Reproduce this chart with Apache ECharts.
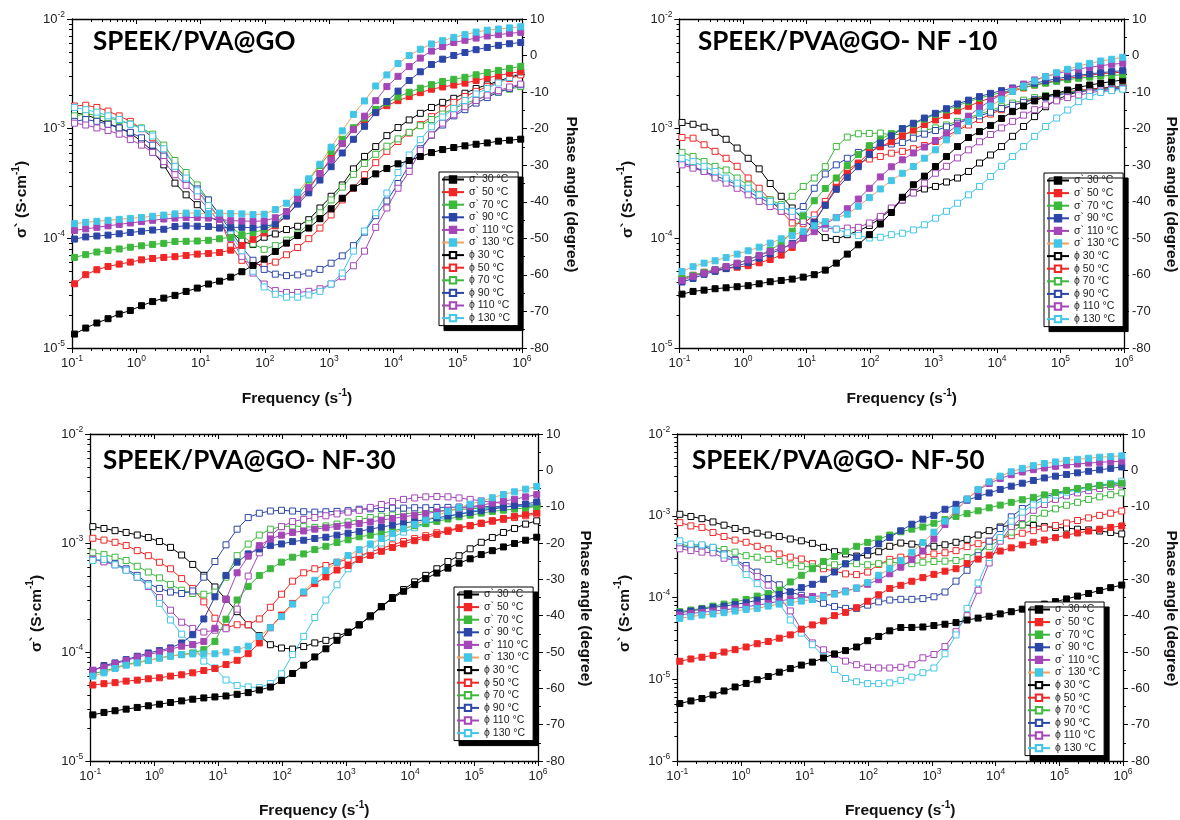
<!DOCTYPE html>
<html><head><meta charset="utf-8">
<script src="https://cdn.jsdelivr.net/npm/echarts@6/dist/echarts.min.js"></script>
<style>html,body{margin:0;padding:0;background:#fff}#c{width:1180px;height:820px}</style>
</head><body><div id="c"></div>
<script>
// Frequency grid (s^-1)
const freq = [0.1096,0.1635,0.2438,0.3635,0.542,0.8082,1.205,1.797,2.679,3.995,5.957,8.883,13.24,19.75,29.44,43.91,65.46,97.61,145.5,217,323.6,482.5,719.5,1073,1600,2385,3556,5303,7907,11790,17580,26210,39080,58280,86900,129600,193200,288100,429500,640400,955000];

const seriesNames = ['σ` 30 °C','σ` 50 °C','σ` 70 °C','σ` 90 °C','σ` 110 °C','σ` 130 °C','ϕ 30 °C','ϕ 50 °C','ϕ 70 °C','ϕ 90 °C','ϕ 110 °C','ϕ 130 °C'];
const panelTitles = ['SPEEK/PVA@GO','SPEEK/PVA@GO- NF -10','SPEEK/PVA@GO- NF-30','SPEEK/PVA@GO- NF-50'];
const phaseTicks = [-80,10];

// ---------- SPEEK/PVA@GO ----------
const go_s30=[1.34e-5,1.52e-5,1.69e-5,1.85e-5,2.04e-5,2.2e-5,2.43e-5,2.65e-5,2.85e-5,3.02e-5,3.28e-5,3.52e-5,3.83e-5,4.07e-5,4.43e-5,4.96e-5,5.66e-5,6.47e-5,7.59e-5,9.04e-5,1.06e-4,1.24e-4,1.51e-4,1.86e-4,2.32e-4,2.88e-4,3.3e-4,3.87e-4,4.33e-4,4.78e-4,5.12e-4,5.57e-4,6.05e-4,6.45e-4,6.73e-4,6.97e-4,7.21e-4,7.41e-4,7.69e-4,7.85e-4,8.02e-4];
const go_s50=[3.85e-5,4.66e-5,5.17e-5,5.54e-5,5.82e-5,6.07e-5,6.37e-5,6.55e-5,6.7e-5,6.8e-5,6.98e-5,7.18e-5,7.28e-5,7.43e-5,7.8e-5,8.6e-5,9.8e-5,1.12e-4,1.3e-4,1.6e-4,2.1e-4,2.8e-4,3.9e-4,5.4e-4,7.4e-4,9.9e-4,1.2e-3,1.42e-3,1.62e-3,1.8e-3,1.96e-3,2.13e-3,2.29e-3,2.4e-3,2.5e-3,2.6e-3,2.75e-3,2.9e-3,3.05e-3,3.2e-3,3.3e-3];
const go_s70=[6.7e-5,7.1e-5,7.5e-5,7.76e-5,8.0e-5,8.3e-5,8.55e-5,8.8e-5,9.0e-5,9.35e-5,9.4e-5,9.45e-5,9.6e-5,9.9e-5,1.02e-4,1.08e-4,1.13e-4,1.2e-4,1.35e-4,1.75e-4,2.4e-4,3.4e-4,4.6e-4,6.2e-4,8.0e-4,1.02e-3,1.25e-3,1.5e-3,1.72e-3,1.95e-3,2.15e-3,2.34e-3,2.52e-3,2.69e-3,2.82e-3,2.94e-3,3.1e-3,3.25e-3,3.4e-3,3.55e-3,3.7e-3];
const go_s90=[9.85e-5,1.03e-4,1.05e-4,1.07e-4,1.1e-4,1.13e-4,1.16e-4,1.19e-4,1.21e-4,1.28e-4,1.3e-4,1.29e-4,1.28e-4,1.24e-4,1.26e-4,1.26e-4,1.25e-4,1.28e-4,1.35e-4,1.6e-4,2.05e-4,2.6e-4,3.4e-4,4.5e-4,6.0e-4,8.0e-4,1.05e-3,1.4e-3,1.77e-3,2.2e-3,2.75e-3,3.3e-3,3.85e-3,4.3e-3,4.65e-3,4.95e-3,5.25e-3,5.5e-3,5.75e-3,5.95e-3,6.1e-3];
const go_s110=[1.18e-4,1.22e-4,1.26e-4,1.3e-4,1.34e-4,1.38e-4,1.42e-4,1.46e-4,1.5e-4,1.53e-4,1.55e-4,1.55e-4,1.53e-4,1.49e-4,1.45e-4,1.44e-4,1.43e-4,1.44e-4,1.54e-4,1.75e-4,2.3e-4,2.9e-4,3.9e-4,5.2e-4,7.3e-4,9.8e-4,1.3e-3,1.8e-3,2.42e-3,3.0e-3,3.68e-3,4.4e-3,5.1e-3,5.6e-3,6.1e-3,6.4e-3,6.7e-3,7.0e-3,7.2e-3,7.4e-3,7.55e-3];
const go_s130=[1.36e-4,1.4e-4,1.43e-4,1.46e-4,1.49e-4,1.52e-4,1.55e-4,1.59e-4,1.63e-4,1.67e-4,1.7e-4,1.7e-4,1.68e-4,1.7e-4,1.68e-4,1.67e-4,1.65e-4,1.66e-4,1.83e-4,2.09e-4,2.63e-4,3.49e-4,4.74e-4,6.78e-4,9.55e-4,1.35e-3,1.79e-3,2.45e-3,3.09e-3,3.92e-3,4.64e-3,5.3e-3,5.92e-3,6.35e-3,6.8e-3,7.2e-3,7.6e-3,7.9e-3,8.1e-3,8.3e-3,8.5e-3];
const go_p30=[-15.6,-16.2,-17.3,-18.5,-19.8,-21.2,-23.5,-26.2,-29.9,-34.9,-38.1,-40.8,-44.0,-45.4,-48.1,-50.8,-51.7,-49.7,-48.8,-47.6,-46.7,-44.9,-41.7,-38.5,-35.4,-31.0,-27.6,-24.9,-21.9,-19.7,-17.6,-15.8,-14.2,-12.8,-11.7,-10.3,-9.0,-8.0,-7.0,-6.0,-5.0];
const go_p50=[-13.8,-13.6,-14.2,-15.2,-16.5,-18.0,-20.0,-22.5,-26.0,-30.0,-33.5,-37.0,-40.5,-44.5,-52.0,-56.0,-57.0,-57.3,-56.5,-54.5,-52.5,-50.1,-47.2,-43.6,-39.5,-36.3,-32.6,-29.3,-26.2,-23.5,-21.2,-18.9,-16.7,-14.7,-12.8,-11.2,-9.8,-8.5,-7.3,-6.3,-5.3];
const go_p70=[-16.5,-16.0,-16.3,-17.0,-17.8,-18.7,-19.8,-21.5,-24.5,-28.7,-32.0,-35.4,-39.5,-43.6,-46.8,-49.2,-51.5,-53.0,-52.0,-50.5,-48.8,-46.0,-43.0,-39.5,-36.0,-32.5,-29.5,-27.0,-24.8,-22.8,-21.0,-19.2,-17.5,-16.0,-14.5,-13.2,-12.0,-11.0,-10.0,-9.2,-8.5];
const go_p90=[-18.0,-17.5,-18.0,-18.8,-19.8,-21.0,-22.5,-24.5,-27.5,-31.0,-34.0,-36.5,-39.5,-43.5,-48.0,-52.5,-56.0,-58.5,-59.8,-60.2,-60.0,-59.5,-58.5,-56.8,-54.8,-52.0,-48.3,-43.8,-39.8,-35.0,-30.0,-25.5,-21.8,-19.0,-16.5,-14.8,-13.0,-11.5,-10.0,-9.0,-8.0];
const go_p110=[-18.5,-19.0,-19.8,-20.5,-21.5,-23.0,-24.5,-26.5,-29.0,-32.6,-35.5,-38.5,-42.0,-45.5,-50.0,-55.0,-59.5,-62.5,-64.3,-64.8,-64.8,-64.5,-63.8,-62.5,-60.5,-57.5,-53.5,-47.0,-41.7,-36.3,-31.7,-26.0,-21.7,-18.5,-16.2,-14.0,-12.3,-10.8,-9.6,-8.6,-7.8];
const go_p130=[-14.2,-14.8,-15.5,-16.5,-17.5,-18.8,-20.0,-22.0,-25.5,-30.3,-33.5,-37.0,-41.0,-44.5,-49.0,-53.4,-59.0,-63.3,-65.3,-66.1,-66.1,-65.5,-64.5,-62.5,-59.5,-53.5,-48.0,-43.0,-37.6,-32.0,-27.2,-23.0,-19.5,-16.8,-14.5,-12.3,-10.5,-9.0,-7.5,-6.0,-4.5];

// ---------- SPEEK/PVA@GO- NF -10 ----------
const nf10_s30=[3.1e-5,3.28e-5,3.37e-5,3.47e-5,3.54e-5,3.62e-5,3.7e-5,3.85e-5,4.02e-5,4.13e-5,4.25e-5,4.43e-5,4.66e-5,5.13e-5,5.94e-5,7.18e-5,8.73e-5,1.08e-4,1.35e-4,1.72e-4,2.37e-4,3.08e-4,3.69e-4,4.52e-4,5.57e-4,6.87e-4,8.3e-4,9.4e-4,1.07e-3,1.24e-3,1.43e-3,1.61e-3,1.79e-3,1.96e-3,2.1e-3,2.25e-3,2.38e-3,2.5e-3,2.6e-3,2.69e-3,2.78e-3];
const nf10_s50=[4.3e-5,4.6e-5,4.9e-5,5.1e-5,5.3e-5,5.45e-5,5.63e-5,5.98e-5,6.42e-5,7.03e-5,8.26e-5,1.01e-4,1.41e-4,2.02e-4,2.92e-4,3.92e-4,4.8e-4,6.1e-4,6.85e-4,7.6e-4,8.6e-4,9.7e-4,1.09e-3,1.2e-3,1.32e-3,1.45e-3,1.6e-3,1.76e-3,1.9e-3,2.05e-3,2.2e-3,2.35e-3,2.5e-3,2.62e-3,2.75e-3,2.87e-3,2.98e-3,3.08e-3,3.16e-3,3.22e-3,3.28e-3];
const nf10_s70=[4.3e-5,4.6e-5,4.9e-5,5.2e-5,5.5e-5,5.9e-5,6.4e-5,7.0e-5,7.8e-5,9.0e-5,1.16e-4,1.6e-4,2.2e-4,2.85e-4,3.55e-4,4.6e-4,5.8e-4,7.0e-4,8.0e-4,9.0e-4,1.0e-3,1.1e-3,1.22e-3,1.35e-3,1.48e-3,1.62e-3,1.76e-3,1.9e-3,2.02e-3,2.14e-3,2.26e-3,2.38e-3,2.5e-3,2.6e-3,2.7e-3,2.8e-3,2.88e-3,2.95e-3,3.02e-3,3.06e-3,3.1e-3];
const nf10_s90=[4.0e-5,4.3e-5,4.7e-5,5.0e-5,5.3e-5,5.6e-5,6.0e-5,6.6e-5,7.2e-5,8.0e-5,9.0e-5,1.08e-4,1.4e-4,2.0e-4,2.8e-4,3.6e-4,4.5e-4,5.8e-4,7.4e-4,8.6e-4,1.0e-3,1.12e-3,1.25e-3,1.38e-3,1.52e-3,1.68e-3,1.82e-3,1.96e-3,2.1e-3,2.22e-3,2.35e-3,2.48e-3,2.6e-3,2.72e-3,2.85e-3,2.97e-3,3.07e-3,3.16e-3,3.24e-3,3.31e-3,3.38e-3];
const nf10_s110=[4.13e-5,4.5e-5,4.82e-5,5.17e-5,5.54e-5,5.94e-5,6.37e-5,6.98e-5,7.59e-5,8.14e-5,8.73e-5,1.0e-4,1.15e-4,1.35e-4,1.55e-4,1.86e-4,2.28e-4,2.86e-4,3.63e-4,4.49e-4,5.2e-4,6.0e-4,6.8e-4,7.8e-4,9.0e-4,1.08e-3,1.3e-3,1.55e-3,1.8e-3,2.05e-3,2.3e-3,2.55e-3,2.78e-3,2.98e-3,3.17e-3,3.35e-3,3.5e-3,3.63e-3,3.75e-3,3.86e-3,3.95e-3];
const nf10_s130=[4.99e-5,5.51e-5,5.94e-5,6.24e-5,6.69e-5,7.18e-5,7.7e-5,8.31e-5,9.04e-5,9.9e-5,1.06e-4,1.16e-4,1.3e-4,1.42e-4,1.54e-4,1.66e-4,1.96e-4,2.35e-4,2.82e-4,3.36e-4,3.92e-4,4.52e-4,5.38e-4,6.41e-4,7.9e-4,9.55e-4,1.16e-3,1.38e-3,1.61e-3,1.85e-3,2.18e-3,2.45e-3,2.72e-3,2.98e-3,3.24e-3,3.48e-3,3.73e-3,3.94e-3,4.14e-3,4.29e-3,4.48e-3];
const nf10_p30=[-18.3,-18.8,-19.6,-21.0,-22.9,-25.3,-28.1,-31.0,-35.0,-38.5,-41.7,-44.9,-47.2,-49.8,-50.3,-49.0,-48.0,-46.5,-44.5,-42.0,-39.5,-37.5,-36.5,-35.8,-34.6,-33.5,-31.7,-29.4,-27.2,-24.9,-22.1,-19.4,-16.7,-14.0,-12.1,-10.8,-9.9,-9.2,-8.9,-8.7,-8.5];
const nf10_p50=[-22.4,-22.6,-24.4,-26.2,-28.1,-30.3,-33.5,-36.3,-39.5,-42.6,-45.8,-46.0,-43.6,-39.9,-34.9,-31.3,-29.4,-28.3,-27.6,-26.7,-26.2,-25.5,-24.6,-23.5,-22.0,-20.5,-19.0,-17.5,-16.0,-14.8,-13.6,-12.6,-11.8,-11.0,-10.4,-9.9,-9.5,-9.2,-9.0,-8.8,-8.6];
const nf10_p70=[-26.5,-27.6,-29.0,-30.3,-31.3,-33.5,-35.4,-38.1,-39.5,-40.8,-38.5,-35.8,-33.5,-30.4,-24.9,-22.3,-21.4,-21.3,-21.2,-21.7,-21.5,-21.0,-20.5,-19.8,-19.0,-18.0,-17.0,-16.0,-15.0,-14.0,-13.0,-12.2,-11.5,-10.9,-10.4,-10.0,-9.7,-9.4,-9.2,-9.0,-8.8];
const nf10_p90=[-29.4,-30.3,-31.7,-32.9,-34.0,-35.4,-37.2,-38.8,-40.4,-41.3,-42.6,-41.3,-36.3,-32.4,-29.9,-28.1,-26.5,-25.3,-24.9,-24.2,-23.8,-22.6,-21.5,-20.5,-19.5,-18.5,-17.5,-16.5,-15.5,-14.5,-13.6,-12.8,-12.0,-11.4,-10.8,-10.3,-9.9,-9.6,-9.3,-9.1,-8.9];
const nf10_p110=[-29.9,-30.8,-31.7,-33.5,-34.9,-36.3,-38.1,-39.9,-41.3,-42.6,-44.0,-45.4,-46.5,-47.2,-47.5,-47.2,-47.0,-45.8,-44.0,-41.7,-39.5,-37.6,-34.9,-32.2,-30.3,-28.0,-25.8,-23.6,-21.6,-19.8,-18.0,-16.3,-14.8,-13.5,-12.4,-11.5,-10.8,-10.2,-9.7,-9.3,-9.0];
const nf10_p130=[-28.1,-29.0,-30.3,-31.7,-33.5,-34.9,-36.3,-38.1,-39.9,-41.3,-42.6,-43.6,-44.9,-46.3,-47.5,-48.5,-49.2,-49.9,-49.7,-49.0,-48.6,-47.7,-46.3,-44.5,-42.6,-40.4,-38.1,-35.8,-33.1,-30.3,-27.6,-24.9,-22.1,-19.4,-17.1,-14.9,-12.6,-11.2,-10.1,-9.6,-9.2];

// ---------- SPEEK/PVA@GO- NF-30 ----------
const nf30_s30=[2.65e-5,2.79e-5,2.89e-5,2.99e-5,3.1e-5,3.21e-5,3.32e-5,3.44e-5,3.56e-5,3.69e-5,3.79e-5,3.87e-5,3.95e-5,4.09e-5,4.24e-5,4.48e-5,4.77e-5,5.48e-5,6.35e-5,7.57e-5,9.01e-5,1.07e-4,1.28e-4,1.51e-4,1.77e-4,2.15e-4,2.6e-4,3.1e-4,3.61e-4,4.15e-4,4.71e-4,5.3e-4,5.88e-4,6.53e-4,7.16e-4,7.83e-4,8.5e-4,9.2e-4,9.9e-4,1.06e-3,1.13e-3];
const nf30_s50=[4.98e-5,5.12e-5,5.23e-5,5.41e-5,5.52e-5,5.68e-5,5.8e-5,6.01e-5,6.18e-5,6.44e-5,6.76e-5,7.05e-5,7.67e-5,8.39e-5,9.65e-5,1.21e-4,1.67e-4,2.18e-4,2.79e-4,3.48e-4,4.24e-4,4.88e-4,5.65e-4,6.22e-4,7.05e-4,7.7e-4,8.4e-4,9.1e-4,9.8e-4,1.05e-3,1.12e-3,1.2e-3,1.28e-3,1.36e-3,1.44e-3,1.52e-3,1.6e-3,1.68e-3,1.76e-3,1.83e-3,1.9e-3];
const nf30_s70=[6.31e-5,6.67e-5,7.16e-5,7.67e-5,8.05e-5,8.39e-5,8.81e-5,9.2e-5,9.46e-5,9.8e-5,1.05e-4,1.25e-4,2.0e-4,3.0e-4,4.0e-4,5.04e-4,5.81e-4,6.67e-4,7.41e-4,7.94e-4,8.69e-4,9.33e-4,1.01e-3,1.07e-3,1.14e-3,1.18e-3,1.23e-3,1.29e-3,1.36e-3,1.44e-3,1.51e-3,1.58e-3,1.66e-3,1.74e-3,1.8e-3,1.88e-3,1.95e-3,2.0e-3,2.05e-3,2.1e-3,2.16e-3];
const nf30_s90=[6.76e-5,7.51e-5,7.94e-5,8.51e-5,9.14e-5,9.8e-5,1.03e-4,1.09e-4,1.21e-4,1.44e-4,2.01e-4,3.21e-4,5.04e-4,6.67e-4,7.94e-4,8.81e-4,9.46e-4,9.8e-4,1.03e-3,1.06e-3,1.1e-3,1.13e-3,1.18e-3,1.23e-3,1.28e-3,1.34e-3,1.4e-3,1.46e-3,1.52e-3,1.58e-3,1.64e-3,1.7e-3,1.77e-3,1.84e-3,1.91e-3,1.98e-3,2.05e-3,2.12e-3,2.2e-3,2.28e-3,2.38e-3];
const nf30_s110=[6.81e-5,7.26e-5,7.83e-5,8.34e-5,8.95e-5,9.46e-5,1.0e-4,1.06e-4,1.13e-4,1.17e-4,1.25e-4,1.65e-4,3.05e-4,5.33e-4,7.57e-4,9.46e-4,1.09e-3,1.18e-3,1.25e-3,1.29e-3,1.34e-3,1.38e-3,1.42e-3,1.46e-3,1.51e-3,1.56e-3,1.62e-3,1.68e-3,1.74e-3,1.8e-3,1.86e-3,1.93e-3,2.0e-3,2.07e-3,2.15e-3,2.23e-3,2.32e-3,2.42e-3,2.52e-3,2.65e-3,2.78e-3];
const nf30_s130=[6.01e-5,6.44e-5,7.05e-5,7.57e-5,7.94e-5,8.34e-5,8.81e-5,9.14e-5,9.46e-5,9.6e-5,9.6e-5,9.63e-5,1.0e-4,1.05e-4,1.13e-4,1.39e-4,1.67e-4,2.11e-4,2.75e-4,3.56e-4,4.55e-4,5.6e-4,6.67e-4,7.67e-4,8.69e-4,9.8e-4,1.1e-3,1.22e-3,1.35e-3,1.48e-3,1.62e-3,1.78e-3,1.95e-3,2.1e-3,2.27e-3,2.42e-3,2.6e-3,2.79e-3,2.95e-3,3.12e-3,3.3e-3];
const nf30_p30=[-15.5,-16.0,-16.6,-17.1,-17.8,-18.5,-19.6,-21.2,-23.3,-25.9,-28.9,-32.1,-35.5,-38.9,-42.5,-45.5,-48.0,-48.9,-49.2,-48.5,-47.5,-46.8,-45.7,-44.5,-42.5,-40.3,-37.5,-35.0,-32.8,-30.7,-28.9,-27.1,-25.1,-23.5,-21.6,-19.8,-18.5,-17.1,-16.0,-14.8,-13.9];
const nf30_p50=[-18.7,-19.2,-19.8,-20.7,-22.1,-23.5,-25.3,-27.1,-29.8,-32.5,-36.2,-40.7,-43.3,-42.5,-42.5,-40.9,-37.7,-34.1,-30.5,-28.2,-27.1,-26.2,-25.3,-24.4,-23.5,-22.5,-21.5,-20.5,-19.6,-18.8,-18.0,-17.2,-16.5,-15.8,-15.2,-14.6,-14.0,-13.5,-13.0,-12.5,-12.0];
const nf30_p70=[-22.7,-23.2,-23.9,-24.8,-26.4,-28.0,-29.6,-31.4,-33.0,-33.9,-34.1,-33.5,-29.4,-23.5,-20.3,-17.8,-16.2,-15.5,-15.3,-15.5,-15.7,-15.3,-14.8,-14.2,-13.5,-13.0,-12.6,-12.3,-12.0,-11.7,-11.4,-11.2,-11.0,-10.8,-10.6,-10.4,-10.2,-10.0,-9.8,-9.6,-9.4];
const nf30_p90=[-24.5,-25.0,-25.7,-27.1,-28.9,-31.2,-32.5,-33.5,-33.9,-33.2,-29.4,-25.1,-20.5,-16.2,-13.0,-11.8,-11.2,-11.0,-11.2,-11.4,-11.5,-11.4,-11.3,-11.1,-10.7,-10.6,-10.5,-10.4,-10.4,-10.3,-10.3,-10.2,-10.2,-10.1,-10.1,-10.0,-10.0,-10.0,-9.9,-9.9,-9.8];
const nf30_p110=[-24.5,-25.2,-26.0,-27.5,-29.5,-32.0,-35.0,-38.5,-41.8,-43.5,-44.5,-44.0,-43.6,-38.2,-29.1,-22.7,-18.0,-15.5,-14.1,-13.5,-13.0,-12.5,-12.0,-11.5,-11.0,-10.2,-9.4,-8.6,-8.0,-7.6,-7.3,-7.2,-7.3,-7.6,-8.0,-8.4,-8.8,-9.1,-9.4,-9.6,-9.7];
const nf30_p130=[-24.8,-24.5,-26.0,-27.5,-29.4,-31.6,-36.6,-41.2,-45.1,-48.0,-52.5,-54.4,-57.7,-59.2,-59.6,-59.8,-58.7,-56.0,-50.7,-45.7,-40.5,-35.7,-31.5,-27.1,-24.4,-22.1,-20.0,-18.5,-17.0,-15.8,-14.7,-13.7,-12.8,-12.0,-11.3,-10.8,-10.4,-10.1,-9.9,-9.7,-9.5];

// ---------- SPEEK/PVA@GO- NF-50 ----------
const nf50_s30=[5.05e-6,5.43e-6,5.8e-6,6.43e-6,7.19e-6,8.04e-6,8.89e-6,9.86e-6,1.08e-5,1.22e-5,1.35e-5,1.49e-5,1.62e-5,1.82e-5,2.04e-5,2.24e-5,2.48e-5,2.96e-5,3.34e-5,3.91e-5,4.29e-5,4.3e-5,4.36e-5,4.54e-5,4.71e-5,4.93e-5,5.3e-5,5.6e-5,5.9e-5,6.3e-5,6.7e-5,7.2e-5,7.7e-5,8.3e-5,8.9e-5,9.6e-5,1.04e-4,1.12e-4,1.22e-4,1.32e-4,1.42e-4];
const nf50_s50=[1.66e-5,1.77e-5,1.86e-5,1.96e-5,2.15e-5,2.3e-5,2.48e-5,2.72e-5,2.9e-5,3.18e-5,3.49e-5,4.1e-5,4.62e-5,5.17e-5,6.0e-5,6.58e-5,7.5e-5,9.0e-5,1.08e-4,1.29e-4,1.41e-4,1.58e-4,1.75e-4,1.92e-4,2.1e-4,2.25e-4,2.6e-4,2.95e-4,3.3e-4,3.7e-4,4.05e-4,4.4e-4,4.75e-4,5.05e-4,5.4e-4,5.8e-4,6.15e-4,6.5e-4,6.85e-4,7.2e-4,7.5e-4];
const nf50_s70=[6.7e-5,7.02e-5,7.36e-5,7.85e-5,8.3e-5,8.85e-5,9.46e-5,1.04e-4,1.11e-4,1.23e-4,1.55e-4,1.87e-4,2.25e-4,2.76e-4,3.17e-4,3.68e-4,4.23e-4,4.73e-4,5.19e-4,5.81e-4,6.37e-4,6.86e-4,7.3e-4,8.1e-4,9.0e-4,9.8e-4,1.06e-3,1.15e-3,1.25e-3,1.35e-3,1.46e-3,1.57e-3,1.68e-3,1.8e-3,1.92e-3,2.04e-3,2.15e-3,2.25e-3,2.34e-3,2.42e-3,2.5e-3];
const nf50_s90=[6.52e-5,6.82e-5,7.22e-5,7.57e-5,7.85e-5,8.23e-5,8.62e-5,9.28e-5,9.73e-5,1.09e-4,1.17e-4,1.32e-4,1.45e-4,1.67e-4,2.05e-4,2.58e-4,3.11e-4,3.75e-4,4.52e-4,5.43e-4,6.55e-4,7.88e-4,9.08e-4,1.01e-3,1.2e-3,1.38e-3,1.55e-3,1.72e-3,1.9e-3,2.1e-3,2.3e-3,2.5e-3,2.7e-3,2.9e-3,3.05e-3,3.2e-3,3.35e-3,3.5e-3,3.65e-3,3.8e-3,3.95e-3];
const nf50_s110=[6.1e-5,6.4e-5,6.58e-5,6.82e-5,7.02e-5,7.36e-5,7.7e-5,8.07e-5,8.47e-5,9.03e-5,9.55e-5,1.0e-4,1.03e-4,1.05e-4,1.12e-4,1.2e-4,1.3e-4,1.45e-4,1.65e-4,1.95e-4,2.35e-4,2.9e-4,3.7e-4,5.2e-4,7.8e-4,1.15e-3,1.6e-3,2.05e-3,2.48e-3,2.85e-3,3.18e-3,3.43e-3,3.66e-3,3.84e-3,4.02e-3,4.17e-3,4.29e-3,4.41e-3,4.5e-3,4.58e-3,4.65e-3];
const nf50_s130=[5.56e-5,5.83e-5,6.1e-5,6.28e-5,6.52e-5,6.82e-5,7.16e-5,7.36e-5,7.85e-5,8.3e-5,8.69e-5,9.03e-5,9.46e-5,1.02e-4,1.1e-4,1.17e-4,1.31e-4,1.52e-4,1.87e-4,2.25e-4,2.84e-4,3.58e-4,4.7e-4,6.3e-4,8.6e-4,1.17e-3,1.6e-3,2.1e-3,2.6e-3,3.05e-3,3.45e-3,3.8e-3,4.1e-3,4.35e-3,4.55e-3,4.75e-3,4.9e-3,5.05e-3,5.2e-3,5.3e-3,5.4e-3];
const nf50_p30=[-12.1,-12.7,-13.3,-14.2,-15.1,-16.0,-16.6,-17.3,-17.8,-18.2,-18.9,-19.4,-20.1,-21.2,-22.4,-23.0,-23.6,-23.3,-22.4,-20.9,-20.0,-20.3,-20.7,-20.9,-20.5,-19.8,-19.0,-17.8,-16.6,-15.6,-15.1,-15.0,-15.2,-15.5,-15.7,-15.9,-16.2,-16.4,-16.7,-17.1,-17.5];
const nf50_p50=[-14.4,-15.3,-15.7,-17.1,-18.2,-19.2,-19.8,-20.9,-21.6,-23.0,-23.9,-24.4,-25.7,-27.1,-27.7,-28.5,-28.7,-28.0,-25.9,-24.5,-23.9,-23.6,-23.3,-23.0,-22.7,-22.1,-21.0,-20.2,-19.5,-18.7,-18.0,-17.3,-16.6,-15.9,-15.2,-14.5,-13.8,-13.1,-12.4,-11.8,-11.2];
const nf50_p70=[-20.3,-20.9,-20.7,-21.2,-21.8,-22.5,-23.5,-23.9,-24.5,-25.1,-26.0,-26.4,-26.6,-26.2,-26.0,-25.7,-25.7,-26.0,-25.7,-25.3,-25.5,-25.7,-25.3,-25.1,-25.0,-24.8,-24.0,-22.5,-21.0,-19.0,-17.0,-15.0,-13.3,-11.8,-10.6,-9.6,-8.8,-8.0,-7.3,-6.7,-6.2];
const nf50_p90=[-20.9,-21.2,-20.9,-21.8,-23.0,-24.6,-26.2,-28.0,-29.8,-31.5,-33.5,-34.4,-35.5,-36.6,-37.5,-38.0,-38.0,-37.1,-36.2,-35.7,-35.5,-35.5,-35.3,-34.8,-33.5,-30.5,-27.5,-23.5,-19.5,-16.0,-12.8,-10.5,-8.7,-7.4,-6.4,-5.7,-5.1,-4.6,-4.2,-3.9,-3.6];
const nf50_p110=[-21.6,-22.1,-22.5,-22.7,-24.2,-24.8,-27.1,-29.2,-31.6,-34.8,-38.7,-43.9,-47.5,-49.4,-50.7,-52.5,-53.5,-54.2,-54.4,-54.4,-54.2,-53.5,-51.6,-50.7,-48.5,-44.4,-40.0,-33.0,-25.5,-19.5,-15.5,-13.0,-11.0,-9.4,-8.0,-7.0,-6.2,-5.6,-5.0,-4.5,-4.0];
const nf50_p130=[-19.4,-20.3,-20.5,-21.2,-23.3,-25.3,-28.7,-31.2,-33.9,-36.6,-41.2,-44.8,-48.0,-51.2,-54.8,-57.3,-58.2,-58.7,-58.7,-58.5,-57.8,-56.9,-55.7,-54.4,-50.5,-45.3,-38.0,-31.0,-24.0,-18.5,-14.0,-11.5,-9.5,-8.0,-6.8,-6.0,-5.3,-4.7,-4.1,-3.6,-3.0];

// ---------- styling ----------
const markerColors = ['#000000','#f02626','#3cb83c','#2c46a8','#a546b8','#42c6e8'];
const sigmaLineColors = ['#000000','#f02626','#3cb83c','#2c46a8','#a546b8','#f4a15e'];
const FONT = '"Liberation Sans", Arial, sans-serif';

const panels = [
  {title:panelTitles[0], sig:[go_s30,go_s50,go_s70,go_s90,go_s110,go_s130], phi:[go_p30,go_p50,go_p70,go_p90,go_p110,go_p130],
   grid:{left:72,top:19,width:450,height:329}, ymin:1e-5, tpos:[93,29], lpos:[439,172], gapL:39, gapR:38, gapX:40},
  {title:panelTitles[1], sig:[nf10_s30,nf10_s50,nf10_s70,nf10_s90,nf10_s110,nf10_s130], phi:[nf10_p30,nf10_p50,nf10_p70,nf10_p90,nf10_p110,nf10_p130],
   grid:{left:679.5,top:19,width:448.5,height:329}, ymin:1e-5, tpos:[698,29], lpos:[1044,173], gapL:41, gapR:36, gapX:40},
  {title:panelTitles[2], sig:[nf30_s30,nf30_s50,nf30_s70,nf30_s90,nf30_s110,nf30_s130], phi:[nf30_p30,nf30_p50,nf30_p70,nf30_p90,nf30_p110,nf30_p130],
   grid:{left:90.3,top:434,width:447.7,height:330}, ymin:1e-5, tpos:[103,448], lpos:[454,587], gapL:43, gapR:36, gapX:39},
  {title:panelTitles[3], sig:[nf50_s30,nf50_s50,nf50_s70,nf50_s90,nf50_s110,nf50_s130], phi:[nf50_p30,nf50_p50,nf50_p70,nf50_p90,nf50_p110,nf50_p130],
   grid:{left:677.3,top:434,width:447.7,height:330}, ymin:1e-6, tpos:[692,448], lpos:[1025,602], gapL:42, gapR:37, gapX:39}
];

const supRich = {
  b:{fontSize:13, fontFamily:FONT, color:'#222', lineHeight:18},
  s:{fontSize:8.5, fontFamily:FONT, color:'#222', verticalAlign:'top', lineHeight:10}
};
const nameRich = {
  n:{fontSize:15.5, fontWeight:'bold', fontFamily:FONT, color:'#111', lineHeight:22},
  s:{fontSize:10, fontWeight:'bold', fontFamily:FONT, color:'#111', verticalAlign:'top', lineHeight:12}
};
function logLabel(v){ const e = Math.round(Math.log10(v)); return '{b|10}{s|' + e + '}'; }

const option = {animation:false, backgroundColor:'#fff', grid:[], xAxis:[], yAxis:[], series:[], legend:[], graphic:[]};
const axisLineStyle = {color:'#000', width:1.3};

panels.forEach((p, k) => {
  option.grid.push(Object.assign({containLabel:false}, p.grid));
  // bottom log x axis
  option.xAxis.push({type:'log', logBase:10, gridIndex:k, min:0.1, max:1e6, splitNumber:7, position:'bottom',
    axisLine:{show:true, onZero:false, lineStyle:axisLineStyle},
    axisTick:{show:true, length:5, lineStyle:{color:'#000', width:1}},
    minorTick:{show:true, splitNumber:9, length:3, lineStyle:{color:'#000', width:1}},
    splitLine:{show:false}, minorSplitLine:{show:false},
    axisLabel:{formatter:logLabel, rich:supRich, margin:6},
    name:'{n|Frequency (s}{s|-1}{n|)}', nameLocation:'middle', nameGap:p.gapX, nameTextStyle:{rich:nameRich}});
  // top mirror axis
  option.xAxis.push({type:'log', logBase:10, gridIndex:k, min:0.1, max:1e6, splitNumber:7, position:'top',
    axisLine:{show:true, onZero:false, lineStyle:axisLineStyle},
    axisTick:{show:true, inside:true, length:5, lineStyle:{color:'#000', width:1}},
    minorTick:{show:true, splitNumber:9, length:3, lineStyle:{color:'#000', width:1}},
    splitLine:{show:false}, axisLabel:{show:false}});
  // left log sigma axis
  option.yAxis.push({type:'log', logBase:10, gridIndex:k, min:p.ymin, max:1e-2, splitNumber:Math.round(Math.log10(1e-2/p.ymin)), position:'left',
    axisLine:{show:true, onZero:false, lineStyle:axisLineStyle},
    axisTick:{show:true, length:5, lineStyle:{color:'#000', width:1}},
    minorTick:{show:true, splitNumber:9, length:3, lineStyle:{color:'#000', width:1}},
    splitLine:{show:false}, minorSplitLine:{show:false},
    axisLabel:{formatter:logLabel, rich:supRich, margin:7},
    name:'{n|σ` (S·cm}{s|-1}{n|)}', nameLocation:'middle', nameGap:p.gapL, nameRotate:90,
    nameTextStyle:{rich:nameRich, padding:[0,32,0,0]}});
  // right phase axis
  option.yAxis.push({type:'value', gridIndex:k, min:phaseTicks[0], max:phaseTicks[1], interval:10, position:'right',
    axisLine:{show:true, onZero:false, lineStyle:axisLineStyle},
    axisTick:{show:true, length:5, lineStyle:{color:'#000', width:1}},
    minorTick:{show:true, splitNumber:2, length:3, lineStyle:{color:'#000', width:1}},
    splitLine:{show:false},
    axisLabel:{fontSize:13, fontFamily:FONT, color:'#222', margin:8},
    name:'{n|Phase angle (degree)}', nameLocation:'middle', nameGap:p.gapR, nameRotate:-90,
    nameTextStyle:{rich:nameRich, padding:[0,0,0,22]}});

  const legendNames = [];
  const addSeries = (arr, j, filled) => {
    const name = seriesNames[j + (filled ? 0 : 6)];
    legendNames.push(name);
    const c = markerColors[j];
    option.series.push({
      type:'line', name:name, xAxisIndex:2*k, yAxisIndex: filled ? 2*k : 2*k+1,
      data: freq.map((f, i) => [f, arr[i]]),
      symbol:'rect', symbolSize:6, showSymbol:true,
      lineStyle:{width:1, color: filled ? sigmaLineColors[j] : c},
      itemStyle:{color: filled ? c : '#ffffff', borderColor:c, borderWidth:1},
      emphasis:{disabled:true}, z: filled ? 3 : 2
    });
  };
  p.sig.forEach((arr, j) => addSeries(arr, j, true));
  p.phi.forEach((arr, j) => addSeries(arr, j, false));

  option.legend.push({
    data: legendNames, orient:'vertical', left:p.lpos[0], top:p.lpos[1],
    itemWidth:22, itemHeight:8, itemGap:1.6, padding:[2,4,2,2],
    backgroundColor:'#fff', borderColor:'#000', borderWidth:1,
    shadowColor:'#000', shadowBlur:0, shadowOffsetX:5, shadowOffsetY:5,
    textStyle:{fontSize:10.5, fontFamily:FONT, color:'#222', lineHeight:11},
    selectedMode:false
  });

  option.graphic.push({type:'text', left:p.tpos[0], top:p.tpos[1], z:10,
    style:{text:p.title, font:'bold 26px Lato, "Open Sans", sans-serif', fill:'#000'}});
});

const chart = echarts.init(document.getElementById('c'), null, {renderer:'canvas'});
chart.setOption(option);
</script>
</body></html>
